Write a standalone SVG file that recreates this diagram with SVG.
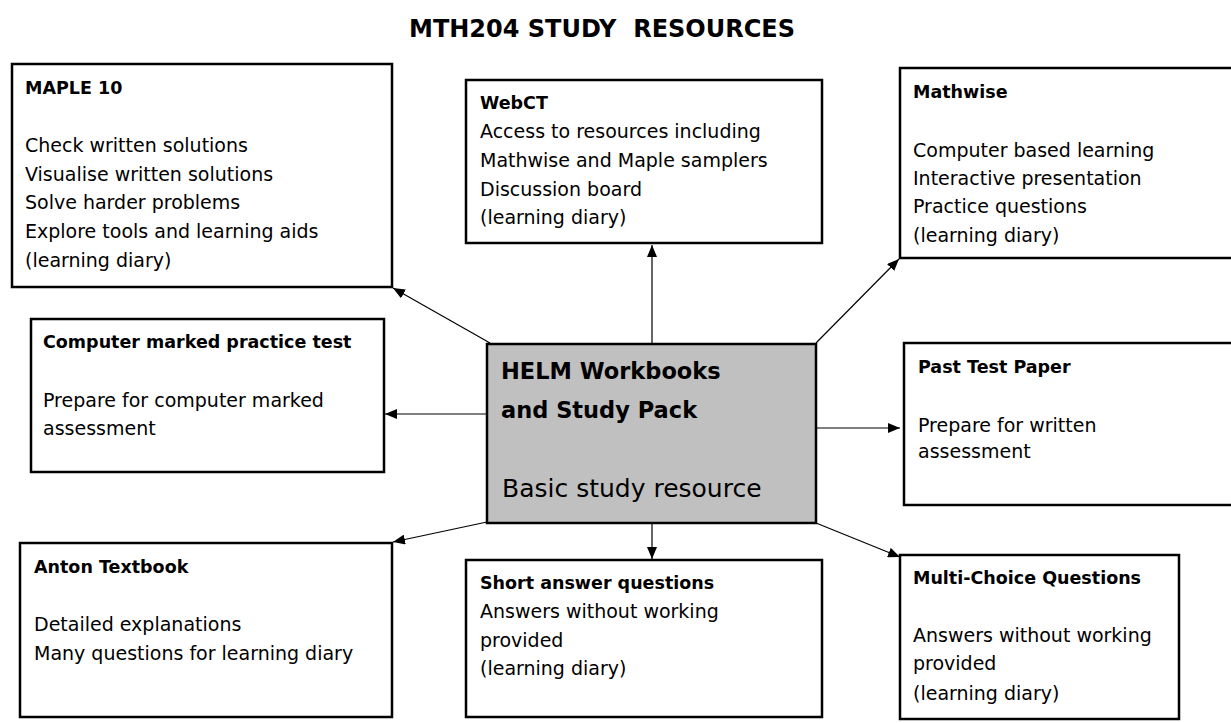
<svg xmlns="http://www.w3.org/2000/svg" width="1231" height="723" viewBox="0 0 1231 723">
  <style>
    .box { fill: #ffffff; stroke: #000000; stroke-width: 2.5; }
    .hub { fill: #c0c0c0; stroke: #000000; stroke-width: 2.5; }
    .t { font-family: "DejaVu Sans", "Open Sans", sans-serif; font-size: 19px; fill: #000; }
    .h { font-family: "DejaVu Sans", "Open Sans", sans-serif; font-size: 17.5px; font-weight: bold; fill: #000; }
    .big { font-family: "DejaVu Sans", "Open Sans", sans-serif; font-size: 25px; fill: #000; }
    .bigb { font-family: "DejaVu Sans", "Open Sans", sans-serif; font-size: 22.5px; font-weight: bold; fill: #000; }
    .title { font-family: "DejaVu Sans", "Open Sans", sans-serif; font-size: 24px; font-weight: bold; fill: #000; white-space: pre; }
    .link { stroke: #000; stroke-width: 1.2; fill: none; marker-end: url(#head); }
  </style>
  <defs>
    <marker id="head" viewBox="0 0 12 10" refX="12" refY="5" markerWidth="12" markerHeight="10" markerUnits="userSpaceOnUse" orient="auto">
      <path d="M0,0 L12,5 L0,10 Z" fill="#000"/>
    </marker>
  </defs>

  <rect width="1231" height="723" fill="#ffffff"/>

  <text class="title" x="409" y="37">MTH204 STUDY  RESOURCES</text>

  <!-- connectors from the central HELM box -->
  <g id="connectors">
    <line class="link" x1="490" y1="343" x2="393" y2="288"/>
    <line class="link" x1="486" y1="414" x2="385" y2="414"/>
    <line class="link" x1="652" y1="343" x2="652" y2="245"/>
    <line class="link" x1="816" y1="343" x2="899" y2="259"/>
    <line class="link" x1="817" y1="428" x2="900" y2="428"/>
    <line class="link" x1="816" y1="523" x2="900" y2="557"/>
    <line class="link" x1="652" y1="524" x2="652" y2="559"/>
    <line class="link" x1="487" y1="522" x2="393" y2="542"/>
  </g>

  <g id="maple">
    <rect class="box" x="12" y="64" width="380" height="223"/>
    <text class="h" x="25" y="94">MAPLE 10</text>
    <text class="t" x="25" y="152">Check written solutions</text>
    <text class="t" x="25" y="181">Visualise written solutions</text>
    <text class="t" x="25" y="209">Solve harder problems</text>
    <text class="t" x="25" y="238">Explore tools and learning aids</text>
    <text class="t" x="25" y="267">(learning diary)</text>
  </g>

  <g id="webct">
    <rect class="box" x="466" y="80" width="356" height="163"/>
    <text class="h" x="480" y="109">WebCT</text>
    <text class="t" x="480" y="138">Access to resources including</text>
    <text class="t" x="480" y="167">Mathwise and Maple samplers</text>
    <text class="t" x="480" y="196">Discussion board</text>
    <text class="t" x="480" y="224">(learning diary)</text>
  </g>

  <g id="mathwise">
    <rect class="box" x="900" y="68" width="340" height="190"/>
    <text class="h" x="913" y="98">Mathwise</text>
    <text class="t" x="913" y="157">Computer based learning</text>
    <text class="t" x="913" y="185">Interactive presentation</text>
    <text class="t" x="913" y="213">Practice questions</text>
    <text class="t" x="913" y="242">(learning diary)</text>
  </g>

  <g id="practice-test">
    <rect class="box" x="31" y="319" width="353" height="153"/>
    <text class="h" x="43" y="348">Computer marked practice test</text>
    <text class="t" x="43" y="407">Prepare for computer marked</text>
    <text class="t" x="43" y="435">assessment</text>
  </g>

  <g id="helm">
    <rect class="hub" x="487" y="344" width="329" height="179"/>
    <text class="bigb" x="501" y="379">HELM Workbooks</text>
    <text class="bigb" x="501" y="418">and Study Pack</text>
    <text class="big" x="502" y="497">Basic study resource</text>
  </g>

  <g id="past-paper">
    <rect class="box" x="904" y="343" width="336" height="162"/>
    <text class="h" x="918" y="373">Past Test Paper</text>
    <text class="t" x="918" y="432">Prepare for written</text>
    <text class="t" x="918" y="458">assessment</text>
  </g>

  <g id="anton">
    <rect class="box" x="20" y="543" width="372" height="174"/>
    <text class="h" x="34" y="573">Anton Textbook</text>
    <text class="t" x="34" y="631">Detailed explanations</text>
    <text class="t" x="34" y="660">Many questions for learning diary</text>
  </g>

  <g id="short-answer">
    <rect class="box" x="466" y="560" width="356" height="157"/>
    <text class="h" x="480" y="589">Short answer questions</text>
    <text class="t" x="480" y="618">Answers without working</text>
    <text class="t" x="480" y="647">provided</text>
    <text class="t" x="480" y="675">(learning diary)</text>
  </g>

  <g id="multi-choice">
    <rect class="box" x="900" y="555" width="279" height="164"/>
    <text class="h" x="913" y="584">Multi-Choice Questions</text>
    <text class="t" x="913" y="642">Answers without working</text>
    <text class="t" x="913" y="670">provided</text>
    <text class="t" x="913" y="700">(learning diary)</text>
  </g>
</svg>
